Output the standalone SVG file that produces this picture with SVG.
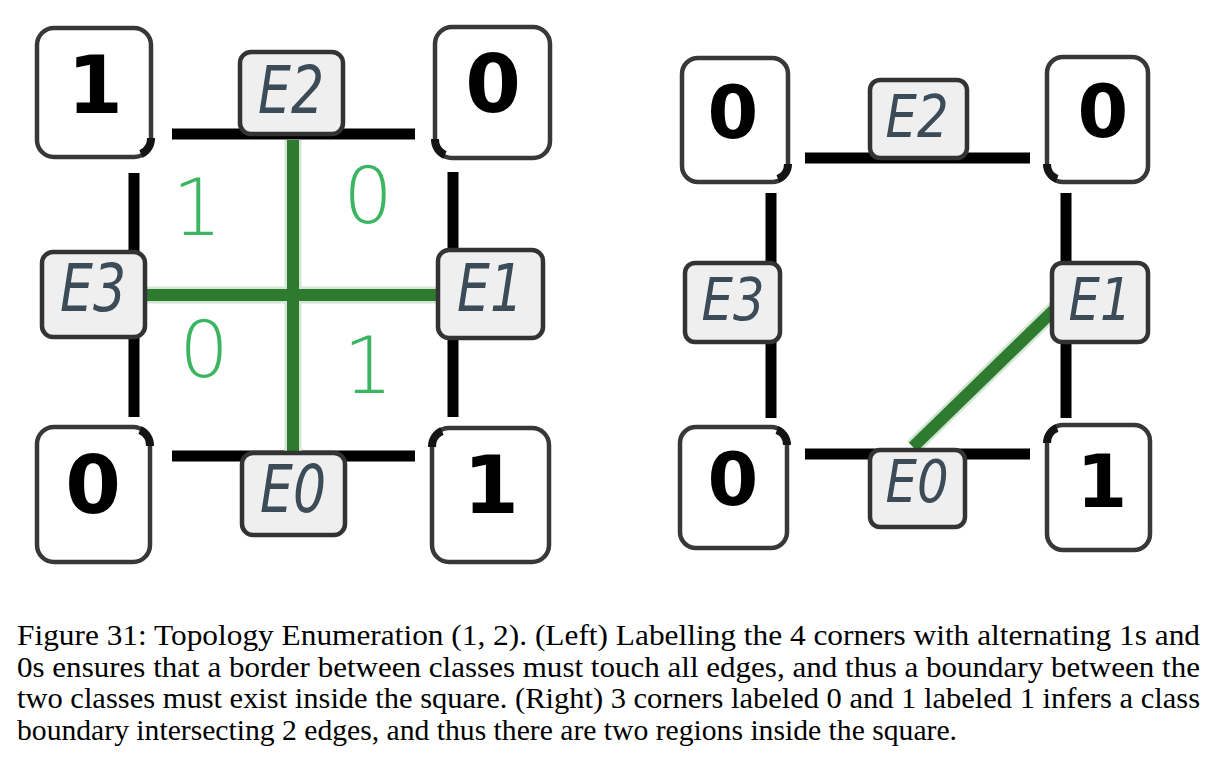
<svg xmlns="http://www.w3.org/2000/svg" width="1219" height="765" viewBox="0 0 1219 765">
<style>
.corner{fill:#fff;stroke:#383838;stroke-width:4.5}
.ebox{fill:#efefef;stroke:#333;stroke-width:4.5}
.nub{fill:none;stroke:#141414;stroke-width:8}
.edge{stroke:#000;stroke-width:11;fill:none}
.gh{stroke:#d3e6d3;stroke-width:17;fill:none}
.g{stroke:#2e7b30;stroke-width:12;fill:none}
.cd{font-family:"DejaVu Sans",sans-serif;font-weight:bold;fill:#000;text-anchor:middle}
.el{font-family:"DejaVu Sans",sans-serif;font-style:oblique;fill:#3b4b57;text-anchor:middle}
.gn{font-family:"DejaVu Sans ExtraLight","DejaVu Sans",sans-serif;font-weight:200;fill:#3cb563;font-size:78px;text-anchor:middle}
.cap{font-family:"Liberation Serif","Times New Roman",serif;font-size:28.5px;fill:#000}
</style>

<g id="connectors">
  <!-- left diagram edges -->
  <line class="edge" x1="172" y1="134" x2="415" y2="134"/>
  <line class="edge" x1="172" y1="456" x2="415" y2="456"/>
  <line class="edge" x1="134" y1="173" x2="134" y2="417"/>
  <line class="edge" x1="453" y1="172" x2="453" y2="417"/>
  <!-- left green boundary -->
  <line class="gh" x1="293" y1="140" x2="293" y2="452"/>
  <line class="gh" x1="145" y1="295" x2="440" y2="295"/>
  <line class="g" x1="293" y1="140" x2="293" y2="452"/>
  <line class="g" x1="145" y1="295" x2="440" y2="295"/>
  <!-- right diagram edges -->
  <line class="edge" x1="805" y1="158" x2="1030" y2="158"/>
  <line class="edge" x1="805" y1="454" x2="1030" y2="454"/>
  <line class="edge" x1="771" y1="193" x2="771" y2="418"/>
  <line class="edge" x1="1066" y1="193" x2="1066" y2="418"/>
  <!-- right green boundary -->
  <line class="gh" x1="913" y1="447" x2="1057" y2="307" stroke-width="15"/>
  <line class="g" x1="913" y1="447" x2="1057" y2="307" stroke-width="11"/>
</g>

<!-- Left diagram nodes -->
<g id="L-c-tl">
  <rect class="corner" x="37" y="28" width="114" height="129" rx="17"/>
  <path class="nub" d="M151,138 A17,17 0 0 1 141,154"/>
  <text class="cd" x="95" y="113" font-size="80">1</text>
</g>
<g id="L-c-tr">
  <rect class="corner" x="435" y="27" width="115" height="131" rx="17"/>
  <path class="nub" d="M445,155 A17,17 0 0 1 435,139"/>
  <text class="cd" x="493" y="112" font-size="80">0</text>
</g>
<g id="L-c-bl">
  <rect class="corner" x="37" y="427" width="113" height="135" rx="17"/>
  <path class="nub" d="M140,430 A17,17 0 0 1 150,446"/>
  <text class="cd" x="93" y="513" font-size="80">0</text>
</g>
<g id="L-c-br">
  <rect class="corner" x="432" y="428" width="117" height="134" rx="17"/>
  <path class="nub" d="M432,447 A17,17 0 0 1 442,431"/>
  <text class="cd" x="491" y="513" font-size="80">1</text>
</g>
<g id="L-E2">
  <rect class="ebox" x="240" y="52" width="103" height="82" rx="11"/>
  <text class="el" x="291" y="113" font-size="66" textLength="66" lengthAdjust="spacingAndGlyphs">E2</text>
</g>
<g id="L-E0">
  <rect class="ebox" x="242" y="453" width="103" height="82" rx="11"/>
  <text class="el" x="293" y="512" font-size="66" textLength="66" lengthAdjust="spacingAndGlyphs">E0</text>
</g>
<g id="L-E3">
  <rect class="ebox" x="42" y="252" width="103" height="85" rx="11"/>
  <text class="el" x="93" y="311" font-size="66" textLength="66" lengthAdjust="spacingAndGlyphs">E3</text>
</g>
<g id="L-E1">
  <rect class="ebox" x="438" y="250" width="105" height="88" rx="11"/>
  <text class="el" x="490" y="311" font-size="66" textLength="66" lengthAdjust="spacingAndGlyphs">E1</text>
</g>
<g id="L-regions">
  <text class="gn" x="197" y="235">1</text>
  <text class="gn" x="368" y="223">0</text>
  <text class="gn" x="204" y="377">0</text>
  <text class="gn" x="368" y="393">1</text>
</g>

<!-- Right diagram nodes -->
<g id="R-c-tl">
  <rect class="corner" x="682" y="58" width="106" height="124" rx="16"/>
  <path class="nub" d="M788,164 A16,16 0 0 1 778,179"/>
  <text class="cd" x="733" y="138" font-size="73">0</text>
</g>
<g id="R-c-tr">
  <rect class="corner" x="1047" y="57" width="101" height="125" rx="16"/>
  <path class="nub" d="M1057,179 A16,16 0 0 1 1047,164"/>
  <text class="cd" x="1103" y="137" font-size="73">0</text>
</g>
<g id="R-c-bl">
  <rect class="corner" x="680" y="427" width="107" height="121" rx="16"/>
  <path class="nub" d="M777,430 A16,16 0 0 1 787,445"/>
  <text class="cd" x="733" y="505" font-size="73">0</text>
</g>
<g id="R-c-br">
  <rect class="corner" x="1047" y="425" width="103" height="125" rx="16"/>
  <path class="nub" d="M1047,443 A16,16 0 0 1 1057,428"/>
  <text class="cd" x="1102" y="507" font-size="73">1</text>
</g>
<g id="R-E2">
  <rect class="ebox" x="870" y="80" width="97" height="78" rx="10"/>
  <text class="el" x="917" y="137" font-size="58" textLength="63" lengthAdjust="spacingAndGlyphs">E2</text>
</g>
<g id="R-E3">
  <rect class="ebox" x="685" y="263" width="95" height="79" rx="10"/>
  <text class="el" x="733" y="320" font-size="58" textLength="63" lengthAdjust="spacingAndGlyphs">E3</text>
</g>
<g id="R-E1">
  <rect class="ebox" x="1052" y="263" width="96" height="79" rx="10"/>
  <text class="el" x="1100" y="320" font-size="58" textLength="63" lengthAdjust="spacingAndGlyphs">E1</text>
</g>
<g id="R-E0">
  <rect class="ebox" x="870" y="450" width="95" height="77" rx="10"/>
  <text class="el" x="917" y="502" font-size="58" textLength="63" lengthAdjust="spacingAndGlyphs">E0</text>
</g>

<g id="caption">
  <text class="cap" x="17" y="645" textLength="1183" lengthAdjust="spacingAndGlyphs">Figure 31: Topology Enumeration (1, 2). (Left) Labelling the 4 corners with alternating 1s and</text>
  <text class="cap" x="17" y="677" textLength="1183" lengthAdjust="spacingAndGlyphs">0s ensures that a border between classes must touch all edges, and thus a boundary between the</text>
  <text class="cap" x="17" y="708" textLength="1183" lengthAdjust="spacingAndGlyphs">two classes must exist inside the square. (Right) 3 corners labeled 0 and 1 labeled 1 infers a class</text>
  <text class="cap" x="17" y="740" textLength="940" lengthAdjust="spacingAndGlyphs">boundary intersecting 2 edges, and thus there are two regions inside the square.</text>
</g>
</svg>
